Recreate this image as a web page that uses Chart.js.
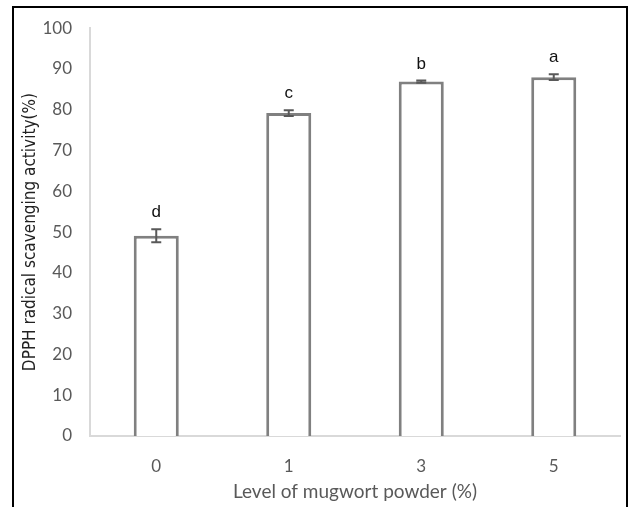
<!DOCTYPE html>
<html>
<head>
<meta charset="utf-8">
<script src="https://cdn.jsdelivr.net/npm/chart.js@4.4.1/dist/chart.umd.min.js"></script>
<style>
  html, body { margin: 0; padding: 0; background: #fff; }
  #wrap { position: relative; width: 630px; height: 507px; overflow: hidden; }
  #frame { position: absolute; left: 12px; top: 6px; width: 612px; height: 520px;
           border: 2px solid #000; border-bottom: none; pointer-events: none; }
</style>
</head>
<body>
<div id="wrap">
  <canvas id="c" width="630" height="507"></canvas>
  <div id="frame"></div>
</div>
<script>
const categories = ['0', '1', '3', '5'];
const values = [49.1, 79.2, 86.9, 88.0];
const errors = [1.6, 0.7, 0.3, 0.7];
const letters = ['d', 'c', 'b', 'a'];
const yMin = 0, yMax = 100, yStep = 10;
const xTitle = 'Level of mugwort powder (%)';
const yTitle = 'DPPH radical scavenging activity(%)';

const errorBarPlugin = {
  id: 'errorBars',
  afterDatasetsDraw(chart) {
    const ctx = chart.ctx;
    const meta = chart.getDatasetMeta(0);
    const ys = chart.scales.y;
    ctx.save();
    meta.data.forEach((bar, i) => {
      const x = bar.x;
      const yTop = ys.getPixelForValue(values[i] + errors[i]);
      const yBot = ys.getPixelForValue(values[i] - errors[i]);
      ctx.strokeStyle = '#595959';
      ctx.lineWidth = 2;
      ctx.beginPath();
      ctx.moveTo(x, yTop); ctx.lineTo(x, yBot);
      ctx.moveTo(x - 5, yTop); ctx.lineTo(x + 5, yTop);
      ctx.moveTo(x - 5, yBot); ctx.lineTo(x + 5, yBot);
      ctx.stroke();
      ctx.fillStyle = '#111';
      ctx.font = '17px "Liberation Sans", Arial, sans-serif';
      ctx.textAlign = 'center';
      ctx.textBaseline = 'bottom';
      ctx.fillText(letters[i], x, yTop - 8);
    });
    ctx.restore();
  }
};

new Chart(document.getElementById('c'), {
  type: 'bar',
  data: {
    labels: categories,
    datasets: [{
      data: values,
      backgroundColor: '#ffffff',
      borderColor: '#808080',
      borderWidth: 3,
      categoryPercentage: 1,
      barPercentage: 0.34
    }]
  },
  options: {
    responsive: false,
    animation: false,
    devicePixelRatio: 1,
    layout: { padding: { top: 20, right: 10, left: 15, bottom: 0 } },
    plugins: { legend: { display: false }, tooltip: { enabled: false } },
    scales: {
      x: {
        grid: { display: false, drawTicks: false },
        border: { display: true, color: '#d9d9d9', width: 2 },
        ticks: { color: '#595959', font: { family: 'Lato', size: 17 }, padding: 20 },
        title: { display: true, text: xTitle, color: '#595959',
                 font: { family: 'Lato', size: 19 }, padding: { top: 0, bottom: 4 } },
        afterFit(scale) { scale.height = 71; }
      },
      y: {
        min: yMin, max: yMax,
        grid: { display: false, drawTicks: false },
        border: { display: true, color: '#d9d9d9', width: 2 },
        ticks: { stepSize: yStep, color: '#595959', font: { family: 'Lato', size: 17 }, padding: 18 },
        title: { display: true, text: yTitle, color: '#222',
                 font: { family: '"Liberation Sans Narrow", "DejaVu Sans Condensed", sans-serif', size: 17 },
                 padding: { top: 5, bottom: 0 } },
        afterFit(scale) { scale.width = 75; }
      }
    }
  },
  plugins: [errorBarPlugin]
});
</script>
</body>
</html>
